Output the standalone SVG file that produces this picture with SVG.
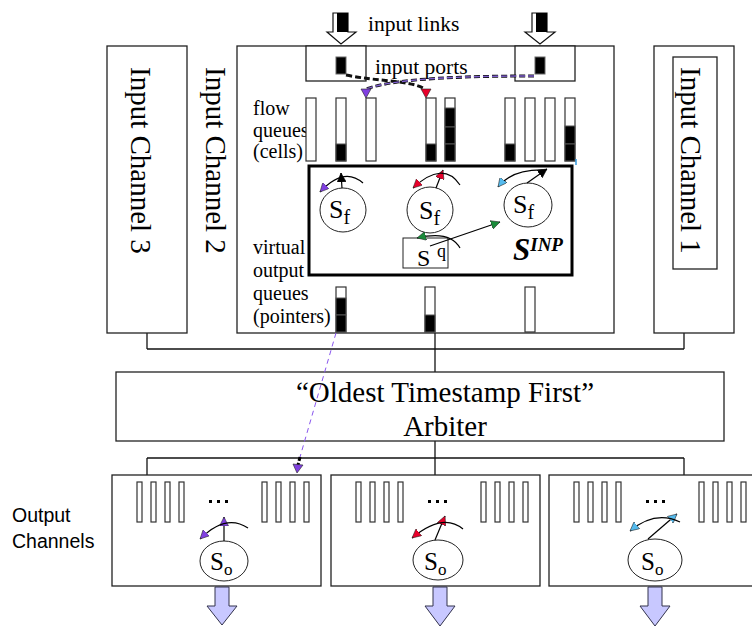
<svg xmlns="http://www.w3.org/2000/svg" width="752" height="627" viewBox="0 0 752 627">
<style>
text{font-family:"Liberation Serif","Times New Roman",serif;fill:#000}
.box{fill:#fff;stroke:#222;stroke-width:1.3}
.q{fill:#fff;stroke:#333;stroke-width:1.2}
.k{fill:#000;stroke:#555;stroke-width:1}
.ln{fill:none;stroke:#111;stroke-width:1.3}
.arc{fill:none;stroke:#000;stroke-width:1.2}
.ob{fill:#fff;stroke:#222;stroke-width:1}
.big{fill:#c8c8ff;stroke:#33334d;stroke-width:1}
.lab{font-size:20px}
.ch{font-size:29px}
.dot{fill:#000}
.sans{font-family:"Liberation Sans",Arial,sans-serif;font-size:19.5px}
</style>
<defs>
<marker id="mP" viewBox="0 0 10 10" refX="10" refY="5" markerWidth="9" markerHeight="9" markerUnits="userSpaceOnUse" orient="auto"><path d="M0,0 L10,5 L0,10 z" fill="#8040e0" stroke="#222" stroke-width="0.6"/></marker>
<marker id="mR" viewBox="0 0 10 10" refX="10" refY="5" markerWidth="9" markerHeight="9" markerUnits="userSpaceOnUse" orient="auto"><path d="M0,0 L10,5 L0,10 z" fill="#e8002a" stroke="#222" stroke-width="0.6"/></marker>
<marker id="mC" viewBox="0 0 10 10" refX="10" refY="5" markerWidth="9" markerHeight="9" markerUnits="userSpaceOnUse" orient="auto"><path d="M0,0 L10,5 L0,10 z" fill="#55bbee" stroke="#222" stroke-width="0.6"/></marker>
<marker id="mG" viewBox="0 0 10 10" refX="10" refY="5" markerWidth="9" markerHeight="9" markerUnits="userSpaceOnUse" orient="auto"><path d="M0,0 L10,5 L0,10 z" fill="#1a8a3a" stroke="#222" stroke-width="0.6"/></marker>
<marker id="mK" viewBox="0 0 10 10" refX="10" refY="5" markerWidth="9" markerHeight="9" markerUnits="userSpaceOnUse" orient="auto"><path d="M0,0 L10,5 L0,10 z" fill="#000" stroke="#000" stroke-width="0.6"/></marker>
</defs>

<g id="connectors">
<line class="ln" x1="147" y1="333" x2="147" y2="349"/>
<line class="ln" x1="684" y1="333" x2="684" y2="349"/>
<line class="ln" x1="147" y1="349" x2="684" y2="349"/>
<line class="ln" x1="435" y1="332" x2="435" y2="372"/>
<line class="ln" x1="435" y1="441" x2="435" y2="475"/>
<line class="ln" x1="147" y1="458" x2="684" y2="458"/>
<line class="ln" x1="147" y1="458" x2="147" y2="475"/>
<line class="ln" x1="684" y1="458" x2="684" y2="475"/>
</g>

<g id="input-channel-3">
<rect class="box" x="107" y="46" width="80" height="287"/>
<text class="ch" transform="translate(131,67) rotate(90)">Input Channel 3</text>
</g>

<g id="input-channel-1">
<rect class="box" x="654" y="46" width="80" height="287"/>
<rect class="box" x="673" y="57" width="44" height="212"/>
<text class="ch" transform="translate(681,67) rotate(90)">Input Channel 1</text>
</g>

<g id="input-channel-2">
<rect class="box" x="237" y="46" width="377" height="287"/>
<text class="ch" transform="translate(206,67) rotate(90)">Input Channel 2</text>
</g>

<g id="input-links">
<polygon points="333,13 348,13 348,32 356,32 341,44 327,32 333,32" fill="#fff" stroke="#111" stroke-width="1.2"/>
<rect x="337" y="13" width="11" height="19" fill="#000"/>
<polygon points="532,13 547,13 547,32 555,32 540,44 525,32 532,32" fill="#fff" stroke="#111" stroke-width="1.2"/>
<rect x="536" y="13" width="11" height="19" fill="#000"/>
<text x="368" y="31" font-size="21.5">input links</text>
</g>

<g id="input-ports">
<rect class="box" x="306" y="46" width="60" height="35"/>
<rect class="box" x="515" y="46" width="60" height="35"/>
<rect x="336" y="57" width="10" height="17" fill="#000" stroke="#666" stroke-width="1"/>
<rect x="535" y="57" width="10" height="17" fill="#000" stroke="#666" stroke-width="1"/>
<text x="375" y="74" font-size="21.5">input ports</text>
<path d="M346,75 C380,82 410,80 425,89" fill="none" stroke="#111" stroke-width="3" stroke-dasharray="6,3"/>
<path d="M534,76 C470,76 395,78 366,89" fill="none" stroke="#111" stroke-width="3" stroke-dasharray="6,3"/>
<path d="M534,76 C470,76 395,78 366,89" fill="none" stroke="#8060d0" stroke-width="1.4" stroke-dasharray="6,3"/>
<polygon points="421,89 431,89 426,98" fill="#e8002a" stroke="#222" stroke-width="0.6"/>
<polygon points="361,89 371,89 366,98" fill="#8040e0" stroke="#222" stroke-width="0.6"/>
</g>

<g id="flow-queues">
<text class="lab" x="253" y="115">flow</text>
<text class="lab" x="253" y="137">queues</text>
<text class="lab" x="253" y="158">(cells)</text>
<rect class="q" x="306" y="98" width="10" height="63"/>
<rect class="q" x="336" y="98" width="10" height="63"/>
<rect class="k" x="336" y="144" width="10" height="17"/>
<rect class="q" x="366" y="98" width="10" height="63"/>
<rect class="q" x="426" y="98" width="10" height="63"/>
<rect class="k" x="426" y="144" width="10" height="17"/>
<rect class="q" x="445" y="98" width="10" height="63"/>
<rect class="k" x="445" y="108" width="10" height="19"/>
<rect class="k" x="445" y="127" width="10" height="17"/>
<rect class="k" x="445" y="144" width="10" height="17"/>
<rect class="q" x="505" y="98" width="10" height="63"/>
<rect class="k" x="505" y="144" width="10" height="17"/>
<rect class="q" x="525" y="98" width="10" height="63"/>
<rect class="q" x="545" y="98" width="10" height="63"/>
<rect class="q" x="565" y="98" width="10" height="63"/>
<rect class="k" x="565" y="126" width="10" height="18"/>
<rect class="k" x="565" y="144" width="10" height="17"/>
<line x1="576" y1="159" x2="576" y2="165" stroke="#3399dd" stroke-width="1.5"/>
</g>

<g id="scheduler-inp">
<rect x="309" y="166" width="263" height="109" fill="#fff" stroke="#000" stroke-width="3"/>
<ellipse class="ob" cx="343" cy="210" rx="23" ry="22"/>
<ellipse class="ob" cx="430" cy="210" rx="23" ry="23"/>
<ellipse class="ob" cx="528" cy="205" rx="24" ry="22"/>
<text x="329" y="218" font-size="26">S<tspan font-size="20" dy="6">f</tspan></text>
<text x="419" y="219" font-size="26">S<tspan font-size="20" dy="6">f</tspan></text>
<text x="513" y="213" font-size="26">S<tspan font-size="20" dy="6">f</tspan></text>
<path class="arc" d="M342,188 L341,173" marker-end="url(#mK)"/>
<path class="arc" d="M363,183 Q344,166 320,192" marker-end="url(#mP)"/>
<path class="arc" d="M436,188 L443,170" marker-end="url(#mR)"/>
<path class="arc" d="M460,185 Q443,160 413,188" marker-end="url(#mR)"/>
<path class="arc" d="M527,183 L547,169" marker-end="url(#mK)"/>
<path class="arc" d="M545,170 Q512,169 498,187" marker-end="url(#mC)"/>
<rect class="ob" x="403" y="238" width="45" height="30"/>
<text x="417" y="266" font-size="24">S</text>
<text x="437" y="257" font-size="18">q</text>
<path class="arc" d="M430,246 L500,222" marker-end="url(#mG)"/>
<path class="arc" d="M460,248 Q450,230 417,238" marker-end="url(#mG)"/>
<text x="513" y="260" font-size="31" font-weight="bold" font-style="italic">S<tspan font-size="19" dy="-9">INP</tspan></text>
</g>

<g id="voq">
<text class="lab" x="253" y="254">virtual</text>
<text class="lab" x="253" y="277">output</text>
<text class="lab" x="253" y="300">queues</text>
<text class="lab" x="253" y="323">(pointers)</text>
<rect class="q" x="336" y="287" width="10" height="45"/>
<rect class="k" x="336" y="298" width="10" height="17"/>
<rect class="k" x="336" y="315" width="10" height="17"/>
<rect class="q" x="425" y="287" width="10" height="45"/>
<rect class="k" x="425" y="315" width="10" height="17"/>
<rect class="q" x="525" y="287" width="10" height="45"/>
</g>

<g id="arbiter">
<rect class="box" x="116" y="372" width="608" height="69"/>
<text x="445" y="402" font-size="29" text-anchor="middle">“Oldest Timestamp First”</text>
<text x="445" y="436" font-size="29" text-anchor="middle">Arbiter</text>
</g>

<g id="voq-to-output">
<path d="M336,333 L300,457" fill="none" stroke="#8855ee" stroke-width="1" stroke-dasharray="5,4"/>
<path d="M300,457 L298,465" fill="none" stroke="#000" stroke-width="3" stroke-dasharray="4,2"/>
<polygon points="293,464 303,465 297,473" fill="#8040e0" stroke="#222" stroke-width="0.6"/>
</g>

<g id="output-label">
<text class="sans" x="12" y="522">Output</text>
<text class="sans" x="12" y="548">Channels</text>
</g>

<g id="output-channel-1">
<rect class="box" x="112" y="475" width="209" height="111"/>
<rect class="q" x="137" y="482" width="5" height="40"/><rect class="q" x="151" y="482" width="5" height="40"/><rect class="q" x="165" y="482" width="5" height="40"/><rect class="q" x="179" y="482" width="5" height="40"/>
<rect class="q" x="262" y="482" width="5" height="40"/><rect class="q" x="276" y="482" width="5" height="40"/><rect class="q" x="290" y="482" width="5" height="40"/><rect class="q" x="304" y="482" width="5" height="40"/>
<rect class="dot" x="209" y="500" width="3" height="3"/><rect class="dot" x="217" y="500" width="3" height="3"/><rect class="dot" x="225" y="500" width="3" height="3"/>
<ellipse class="ob" cx="224" cy="561" rx="24" ry="20"/>
<text x="210" y="570" font-size="25">S<tspan font-size="17" dy="5">o</tspan></text>
<path class="arc" d="M224,541 L224,517" marker-end="url(#mP)"/>
<path class="arc" d="M248,528 Q226,513 200,539" marker-end="url(#mP)"/>
<polygon class="big" points="215,587 229,587 229,606 237,606 222,625 207,606 215,606"/>
</g>

<g id="output-channel-2">
<rect class="box" x="331" y="475" width="209" height="111"/>
<rect class="q" x="356" y="482" width="5" height="40"/><rect class="q" x="370" y="482" width="5" height="40"/><rect class="q" x="384" y="482" width="5" height="40"/><rect class="q" x="398" y="482" width="5" height="40"/>
<rect class="q" x="481" y="482" width="5" height="40"/><rect class="q" x="495" y="482" width="5" height="40"/><rect class="q" x="509" y="482" width="5" height="40"/><rect class="q" x="523" y="482" width="5" height="40"/>
<rect class="dot" x="428" y="500" width="3" height="3"/><rect class="dot" x="436" y="500" width="3" height="3"/><rect class="dot" x="444" y="500" width="3" height="3"/>
<ellipse class="ob" cx="438" cy="560" rx="25" ry="20"/>
<text x="424" y="570" font-size="25">S<tspan font-size="17" dy="5">o</tspan></text>
<path class="arc" d="M435,540 L445,516" marker-end="url(#mR)"/>
<path class="arc" d="M463,529 Q443,512 412,538" marker-end="url(#mR)"/>
<polygon class="big" points="433,587 447,587 447,606 455,606 440,626 425,606 433,606"/>
</g>

<g id="output-channel-3">
<rect class="box" x="549" y="475" width="215" height="111"/>
<rect class="q" x="574" y="482" width="5" height="40"/><rect class="q" x="588" y="482" width="5" height="40"/><rect class="q" x="602" y="482" width="5" height="40"/><rect class="q" x="616" y="482" width="5" height="40"/>
<rect class="q" x="699" y="482" width="5" height="40"/><rect class="q" x="713" y="482" width="5" height="40"/><rect class="q" x="727" y="482" width="5" height="40"/><rect class="q" x="741" y="482" width="5" height="40"/>
<rect class="dot" x="646" y="500" width="3" height="3"/><rect class="dot" x="654" y="500" width="3" height="3"/><rect class="dot" x="662" y="500" width="3" height="3"/>
<ellipse class="ob" cx="655" cy="560" rx="27" ry="21"/>
<text x="641" y="570" font-size="25">S<tspan font-size="17" dy="5">o</tspan></text>
<path class="arc" d="M648,539 L677,514" marker-end="url(#mC)"/>
<path class="arc" d="M680,522 Q655,510 630,531" marker-end="url(#mC)"/>
<polygon class="big" points="648,587 662,587 662,606 670,606 655,626 640,606 648,606"/>
</g>
</svg>
